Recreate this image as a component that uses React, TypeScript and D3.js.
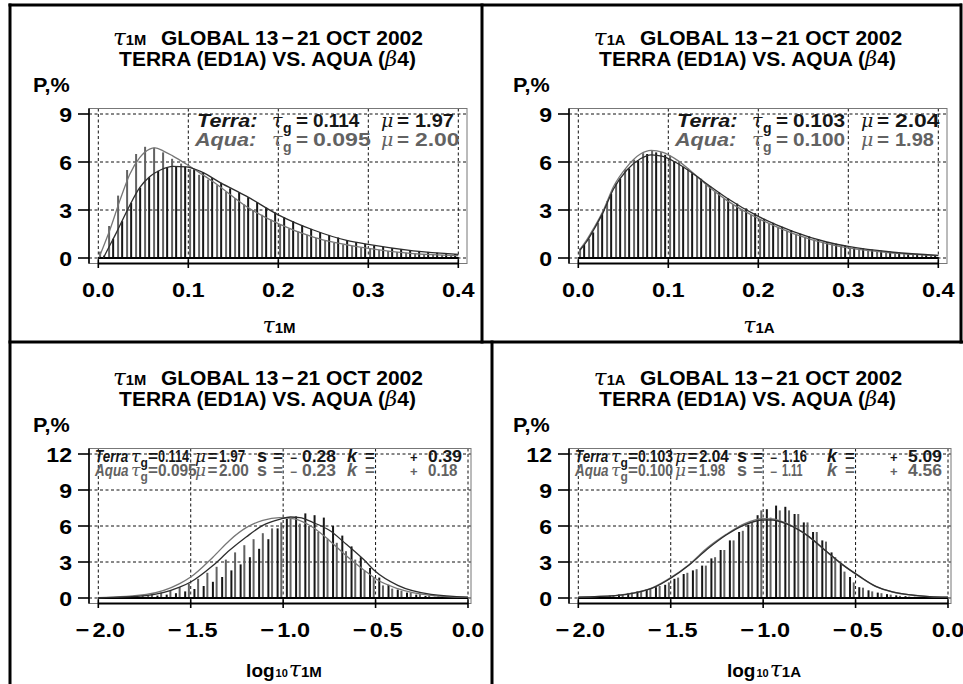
import React from "react";
import * as d3 from "d3";

// ---------- axes / categories ----------
const LIN_TICKS = [0.0, 0.1, 0.2, 0.3, 0.4];
const LOG_TICKS = [-2.0, -1.5, -1.0, -0.5, 0.0];
const Y_TICKS_TOP = [0, 3, 6, 9];
const Y_TICKS_BOTTOM = [0, 3, 6, 9, 12];
const LIN_BIN_STARTS = d3.range(40).map((k) => +(k * 0.01).toFixed(2));
const LOG_BIN_STARTS = d3.range(40).map((k) => +(-2 + k * 0.05).toFixed(2));

// ---------- panel 1 : tau_1M ----------
const P1_TERRA_BARS = [0.15, 1.2, 2.3, 3.45, 4.4, 5.05, 5.45, 5.65, 5.75, 5.7, 5.55, 5.35, 5.0, 4.7, 4.35, 4.1, 3.8, 3.5, 3.15, 2.85, 2.55, 2.3, 2.05, 1.82, 1.62, 1.44, 1.28, 1.12, 1.0, 0.88, 0.78, 0.7, 0.62, 0.55, 0.49, 0.43, 0.38, 0.33, 0.29, 0.25];
const P1_AQUA_BARS = [0.4, 2.0, 3.9, 5.5, 6.5, 6.95, 6.9, 6.6, 6.2, 5.9, 5.55, 5.2, 4.9, 4.55, 4.15, 3.75, 3.35, 3.0, 2.7, 2.4, 2.1, 1.85, 1.65, 1.45, 1.25, 1.1, 0.95, 0.85, 0.75, 0.66, 0.58, 0.5, 0.44, 0.38, 0.33, 0.29, 0.25, 0.22, 0.19, 0.17];
const P1_TERRA_CURVE: [number, number][] = [[0.0056, 0], [0.012, 0.7], [0.02, 1.57], [0.028, 2.5], [0.035, 3.3], [0.046, 4.4], [0.057, 5.08], [0.069, 5.5], [0.083, 5.73], [0.098, 5.7], [0.116, 5.35], [0.135, 4.73], [0.165, 3.85], [0.2, 2.7], [0.239, 1.75], [0.276, 1.1], [0.3, 0.85], [0.35, 0.45], [0.4, 0.23]];
const P1_AQUA_CURVE: [number, number][] = [[0.001, 0.05], [0.013, 1.78], [0.024, 3.6], [0.035, 5.24], [0.046, 6.27], [0.057, 6.8], [0.063, 6.88], [0.072, 6.7], [0.083, 6.37], [0.098, 5.86], [0.116, 5.2], [0.128, 4.75], [0.165, 3.2], [0.2, 2.15], [0.239, 1.3], [0.3, 0.6], [0.35, 0.27], [0.4, 0.15]];

// ---------- panel 2 : tau_1A ----------
const P2_TERRA_BARS = [0.85, 1.6, 2.8, 4.0, 4.95, 5.6, 6.1, 6.5, 6.6, 6.45, 6.05, 5.7, 5.3, 4.95, 4.5, 4.1, 3.72, 3.4, 3.1, 2.8, 2.45, 2.2, 1.95, 1.75, 1.52, 1.35, 1.18, 1.0, 0.9, 0.78, 0.68, 0.6, 0.52, 0.45, 0.4, 0.34, 0.3, 0.26, 0.22, 0.18];
const P2_AQUA_BARS = [0.6, 1.2, 2.2, 3.55, 4.7, 5.55, 6.15, 6.55, 6.72, 6.62, 6.4, 6.05, 5.6, 5.1, 4.6, 4.15, 3.72, 3.35, 3.0, 2.7, 2.42, 2.15, 1.9, 1.7, 1.5, 1.32, 1.15, 1.0, 0.87, 0.75, 0.65, 0.56, 0.48, 0.42, 0.36, 0.31, 0.26, 0.22, 0.19, 0.16];
const P2_TERRA_CURVE: [number, number][] = [[0.002, 0.5], [0.009, 1.0], [0.017, 1.75], [0.028, 2.9], [0.039, 4.3], [0.054, 5.5], [0.069, 6.2], [0.081, 6.45], [0.094, 6.35], [0.109, 5.95], [0.128, 5.25], [0.146, 4.5], [0.165, 3.75], [0.2, 2.6], [0.239, 1.65], [0.276, 1.0], [0.3, 0.72], [0.35, 0.36], [0.4, 0.17]];
const P2_AQUA_CURVE: [number, number][] = [[0.002, 0.55], [0.009, 1.1], [0.017, 1.85], [0.028, 3.0], [0.039, 4.45], [0.054, 5.7], [0.069, 6.5], [0.081, 6.73], [0.094, 6.6], [0.109, 6.15], [0.128, 5.3], [0.146, 4.4], [0.165, 3.6], [0.2, 2.47], [0.239, 1.53], [0.276, 0.9], [0.3, 0.63], [0.35, 0.31], [0.4, 0.15]];

// ---------- panel 3 : log10 tau_1M ----------
const P3_TERRA_BARS = [0.02, 0.03, 0.05, 0.07, 0.1, 0.14, 0.2, 0.28, 0.4, 0.55, 0.75, 1.0, 1.35, 1.75, 2.3, 2.8, 3.4, 4.1, 4.9, 5.8, 6.6, 6.8, 7.05, 6.9, 6.7, 6.0, 5.2, 4.3, 3.4, 2.5, 1.7, 1.1, 0.7, 0.45, 0.28, 0.17, 0.1, 0.06, 0.04, 0.02];
const P3_AQUA_BARS = [0.04, 0.07, 0.1, 0.15, 0.22, 0.32, 0.45, 0.62, 0.9, 1.2, 1.6, 2.1, 2.6, 3.2, 3.8, 4.4, 4.9, 5.4, 5.8, 6.3, 6.6, 6.2, 6.0, 5.5, 4.9, 4.6, 3.9, 3.2, 2.3, 1.7, 1.05, 0.78, 0.6, 0.45, 0.32, 0.22, 0.15, 0.1, 0.06, 0.03];
const P3_TERRA_CURVE: [number, number][] = [[-2.0, 0.02], [-1.74, 0.2], [-1.56, 0.9], [-1.5, 1.33], [-1.38, 2.7], [-1.29, 3.97], [-1.2, 5.08], [-1.11, 6.05], [-1.02, 6.55], [-0.96, 6.75], [-0.91, 6.7], [-0.84, 6.3], [-0.75, 5.64], [-0.66, 4.5], [-0.56, 3.14], [-0.5, 2.2], [-0.38, 1.05], [-0.2, 0.3], [0, 0.08]];
const P3_AQUA_CURVE: [number, number][] = [[-2.0, 0.03], [-1.74, 0.3], [-1.56, 1.2], [-1.5, 1.75], [-1.38, 3.4], [-1.29, 4.8], [-1.2, 5.86], [-1.11, 6.47], [-1.02, 6.7], [-0.94, 6.6], [-0.84, 5.9], [-0.75, 4.8], [-0.66, 3.55], [-0.56, 2.3], [-0.5, 1.6], [-0.38, 0.78], [-0.2, 0.22], [0, 0.05]];

// ---------- panel 4 : log10 tau_1A ----------
const P4_TERRA_BARS = [0.05, 0.08, 0.13, 0.2, 0.3, 0.42, 0.55, 0.7, 0.9, 1.1, 1.6, 2.0, 2.3, 2.7, 3.3, 4.0, 4.8, 5.5, 6.1, 6.9, 7.4, 7.7, 7.6, 7.0, 6.3, 5.5, 4.8, 3.8, 2.85, 1.75, 0.9, 0.64, 0.45, 0.32, 0.22, 0.15, 0.1, 0.06, 0.04, 0.02];
const P4_AQUA_BARS = [0.05, 0.09, 0.14, 0.22, 0.32, 0.45, 0.58, 0.75, 1.0, 1.3, 1.7, 2.1, 2.4, 2.7, 3.4, 4.0, 4.8, 5.6, 6.3, 7.3, 6.7, 7.3, 7.3, 7.0, 6.3, 5.5, 4.7, 3.4, 2.2, 1.3, 0.86, 0.55, 0.4, 0.28, 0.18, 0.12, 0.08, 0.05, 0.03, 0.02];
const P4_TERRA_CURVE: [number, number][] = [[-2.0, 0.08], [-1.8, 0.2], [-1.7, 0.4], [-1.6, 0.82], [-1.5, 1.65], [-1.4, 2.75], [-1.3, 4.1], [-1.2, 5.25], [-1.1, 6.1], [-1.0, 6.5], [-0.95, 6.5], [-0.87, 6.15], [-0.76, 5.2], [-0.66, 3.92], [-0.57, 2.78], [-0.48, 1.82], [-0.39, 0.97], [-0.3, 0.52], [-0.2, 0.26], [-0.1, 0.12], [0, 0.07]];
const P4_AQUA_CURVE: [number, number][] = [[-2.0, 0.08], [-1.8, 0.2], [-1.7, 0.42], [-1.6, 0.85], [-1.5, 1.7], [-1.4, 2.8], [-1.3, 4.2], [-1.2, 5.3], [-1.1, 6.2], [-1.0, 6.62], [-0.95, 6.6], [-0.87, 6.2], [-0.76, 5.2], [-0.66, 3.9], [-0.57, 2.75], [-0.48, 1.8], [-0.39, 0.95], [-0.3, 0.5], [-0.2, 0.25], [-0.1, 0.12], [0, 0.07]];

// ---------- statistics text ----------
const TAU_G_1M = ["0.114", "0.095"];
const MU_1M = ["1.97", "2.00"];
const S_1M = ["0.28", "0.23"];
const K_1M = ["0.39", "0.18"];
const TAU_G_1A = ["0.103", "0.100"];
const MU_1A = ["2.04", "1.98"];
const S_1A = ["1.16", "1.11"];
const K_1A = ["5.09", "4.56"];
const SAT_NAMES = ["Terra", "Aqua"];

const SANS = "'Liberation Sans', Arial, Helvetica, sans-serif";
const SERIF = "'DejaVu Serif', 'Liberation Serif', serif";
const DARK = "#161616";
const GRAY = "#626262";
const SAT_COLORS = [DARK, GRAY];

// the original typeface has proportional digits (narrow "1")
const numW = (s: string, af: number, a1: number, ad: number) =>
  Array.from(s).reduce((w, ch) => w + (ch === "1" ? a1 : ch === "." ? ad : af), 0);

const Sx = ({ x, y, sx, children }: any) => (
  <g transform={`translate(${x},${y}) scale(${sx},1)`}>{children}</g>
);

function Panel(props: any) {
  const { ox, oy, log, sub, yMax, yTicks, terraBars, aquaBars, terraCurve, aquaCurve, tau, mu, s, k } = props;
  const xDom = log ? [-2, 0] : [0, 0.4];
  const x = d3.scaleLinear().domain(xDom).range([98.3, log ? 468 : 458.3]);
  const y = d3.scaleLinear().domain([0, yMax]).range([258, 114]);
  const boxL = 89, boxR = log ? 471 : 467, boxT = 108.5, boxB = 263.5;
  const bins = log ? LOG_BIN_STARTS : LIN_BIN_STARTS;
  const bw = log ? 0.05 : 0.01;
  const offT = log ? 0.4 : 0.65;
  const offA = log ? 0.8 : 0.2;
  const ticks = log ? LOG_TICKS : LIN_TICKS;
  const line = d3
    .line<[number, number]>()
    .x((d) => x(d[0]))
    .y((d) => y(d[1]))
    .curve(d3.curveMonotoneX);

  const fmt = (v: number) => (v < 0 ? ["\u2212", Math.abs(v).toFixed(1)] : ["", v.toFixed(1)]);

  return (
    <g transform={`translate(${ox},${oy})`}>
      {/* title */}
      <Sx x={268} y={45} sx={1.05}>
        <text textAnchor="middle" fontFamily={SANS} fontWeight="bold" fontSize={20}>
          <tspan fontFamily={SERIF} fontStyle="italic" fontWeight="normal" fontSize={22}>τ</tspan>
          <tspan fontSize={14}>{sub}</tspan>
          <tspan dx={14}>GLOBAL 13</tspan>
          <tspan dx={3}>−</tspan>
          <tspan dx={3}>21 OCT 2002</tspan>
        </text>
      </Sx>
      <Sx x={267.5} y={66} sx={1.05}>
        <text textAnchor="middle" fontFamily={SANS} fontWeight="bold" fontSize={20}>
          TERRA (ED1A) VS. AQUA (
          <tspan fontFamily={SERIF} fontStyle="italic" fontWeight="normal">β</tspan>
          4)
        </text>
      </Sx>
      <Sx x={33} y={92} sx={1.08}>
        <text fontFamily={SANS} fontWeight="bold" fontSize={20}>P,%</text>
      </Sx>

      {/* grid */}
      {ticks.map((t: number) => (
        <line key={"gx" + t} x1={x(t)} x2={x(t)} y1={boxT} y2={boxB} stroke="#111" strokeWidth={1} strokeDasharray="3,2.5" />
      ))}
      {yTicks.map((t: number) => (
        <line key={"gy" + t} x1={boxL} x2={boxR} y1={y(t)} y2={y(t)} stroke="#111" strokeWidth={1} strokeDasharray="3,2.5" />
      ))}

      {/* box */}
      <rect x={boxL} y={boxT} width={boxR - boxL} height={boxB - boxT} fill="none" stroke="#777" strokeWidth={1} />

      {/* bars */}
      {bins.map((b: number, i: number) => (
        <rect key={"a" + i} x={x(b + bw * offA) - 1} width={2} y={y(aquaBars[i])} height={y(0) - y(aquaBars[i])} fill={GRAY} />
      ))}
      {bins.map((b: number, i: number) => (
        <rect key={"t" + i} x={x(b + bw * offT) - 1} width={2} y={y(terraBars[i])} height={y(0) - y(terraBars[i])} fill={DARK} />
      ))}
      <line x1={x(xDom[0])} x2={x(xDom[1])} y1={y(0)} y2={y(0)} stroke="#000" strokeWidth={2} />

      {/* curves */}
      <path d={line(aquaCurve) || ""} fill="none" stroke="#767676" strokeWidth={1.3} />
      <path d={line(terraCurve) || ""} fill="none" stroke="#2e2e2e" strokeWidth={1.3} />

      {/* axes */}
      <line x1={boxL} x2={boxL} y1={boxT} y2={boxB} stroke="#000" strokeWidth={1.6} />
      {yTicks.map((t: number) => (
        <g key={"yt" + t}>
          <line x1={78} x2={boxL} y1={y(t)} y2={y(t)} stroke="#000" strokeWidth={1.6} />
          <Sx x={72} y={y(t) + 7.5} sx={1.1}>
            <text textAnchor="end" fontFamily={SANS} fontWeight="bold" fontSize={21}>{t}</text>
          </Sx>
        </g>
      ))}
      <line x1={x(xDom[0])} x2={x(xDom[1])} y1={boxB} y2={boxB} stroke="#000" strokeWidth={1.8} />
      {ticks.map((t: number) => {
        const [sg, num] = fmt(t);
        return (
          <g key={"xt" + t}>
            <line x1={x(t)} x2={x(t)} y1={259.5} y2={268} stroke="#000" strokeWidth={1.6} />
            <Sx x={x(t) + (sg ? 2 : 0)} y={297} sx={1.12}>
              <text textAnchor="middle" fontFamily={SANS} fontWeight="bold" fontSize={21}>
                {sg}
                <tspan dx={sg ? 3 : 0}>{num}</tspan>
              </text>
            </Sx>
          </g>
        );
      })}

      {/* x title */}
      {log ? (
        <text x={284} y={336.5} textAnchor="middle" fontFamily={SANS} fontWeight="bold" fontSize={19}>
          log
          <tspan fontSize={11} dx={1}>10</tspan>
          <tspan fontFamily={SERIF} fontStyle="italic" fontWeight="normal" fontSize={22} dx={1}>τ</tspan>
          <tspan fontSize={15}>{sub}</tspan>
        </text>
      ) : (
        <text x={279} y={333} textAnchor="middle" fontFamily={SANS} fontWeight="bold" fontSize={15}>
          <tspan fontFamily={SERIF} fontStyle="italic" fontWeight="normal" fontSize={22}>τ</tspan>
          <tspan>{sub}</tspan>
        </text>
      )}

      {/* statistics */}
      {!log
        ? SAT_NAMES.map((nm, r) => {
            const yb = r === 0 ? 127 : 145.5;
            const c = SAT_COLORS[r];
            return (
              <g key={"st" + r} fill={c} fontFamily={SANS} fontWeight="bold" fontSize={18}>
                <Sx x={r === 0 ? 197 : 195} y={yb} sx={1.2}>
                  <text fontStyle="italic">{nm + ":"}</text>
                </Sx>
                <text x={272} y={yb} fontFamily={SERIF} fontStyle="italic" fontWeight="normal" fontSize={19}>τ</text>
                <text x={283} y={yb + 6} fontSize={14}>g</text>
                <Sx x={296} y={yb} sx={1.15}>
                  <text>=</text>
                </Sx>
                <text x={313} y={yb} textLength={numW(tau[r], 13.2, 7.5, 5)} lengthAdjust="spacingAndGlyphs">{tau[r]}</text>
                <text x={381} y={yb} fontFamily={SERIF} fontStyle="italic" fontWeight="normal" fontSize={19}>μ</text>
                <Sx x={397} y={yb} sx={1.15}>
                  <text>=</text>
                </Sx>
                <text x={415} y={yb} textLength={numW(mu[r], 13.2, 7.5, 5)} lengthAdjust="spacingAndGlyphs">{mu[r]}</text>
              </g>
            );
          })
        : SAT_NAMES.map((nm, r) => {
            const yb = r === 0 ? 121.5 : 136;
            const c = SAT_COLORS[r];
            return (
              <g key={"st" + r} fill={c} fontFamily={SANS} fontWeight="bold" fontSize={17}>
                <Sx x={95} y={yb} sx={0.84}>
                  <text fontStyle="italic" fontSize={16}>{nm}</text>
                </Sx>
                <text x={131} y={yb} fontFamily={SERIF} fontStyle="italic" fontWeight="normal" fontSize={17}>τ</text>
                <text x={140.5} y={yb + 5} fontSize={12}>g</text>
                <text x={148} y={yb}>=</text>
                <text x={158} y={yb} textLength={numW(tau[r], 8.8, 5, 3.5)} lengthAdjust="spacingAndGlyphs">{tau[r]}</text>
                <text x={195} y={yb} fontFamily={SERIF} fontStyle="italic" fontWeight="normal" fontSize={17}>μ</text>
                <text x={207.5} y={yb}>=</text>
                <text x={219} y={yb} textLength={numW(mu[r], 8.8, 5, 3.5)} lengthAdjust="spacingAndGlyphs">{mu[r]}</text>
                <text x={257} y={yb} fontSize={18}>s</text>
                <text x={273} y={yb}>=</text>
                <text x={290} y={yb} fontSize={12}>−</text>
                <text x={302} y={yb} textLength={numW(s[r], 10, 5.5, 4)} lengthAdjust="spacingAndGlyphs">{s[r]}</text>
                <text x={347} y={yb} fontStyle="italic" fontSize={18}>k</text>
                <text x={365} y={yb}>=</text>
                <text x={410} y={yb} fontSize={13}>+</text>
                <text x={428} y={yb} textLength={numW(k[r], 10, 5.5, 4)} lengthAdjust="spacingAndGlyphs">{k[r]}</text>
              </g>
            );
          })}
    </g>
  );
}

export default function App() {
  return (
    <svg width={963} height={684} style={{ position: "absolute", left: 0, top: 0, background: "#fff" }}>
      <rect x={0} y={0} width={963} height={684} fill="#fff" />
      <Panel ox={0} oy={0} log={false} sub="1M" yMax={9} yTicks={Y_TICKS_TOP}
        terraBars={P1_TERRA_BARS} aquaBars={P1_AQUA_BARS} terraCurve={P1_TERRA_CURVE} aquaCurve={P1_AQUA_CURVE}
        tau={TAU_G_1M} mu={MU_1M} />
      <Panel ox={480} oy={0} log={false} sub="1A" yMax={9} yTicks={Y_TICKS_TOP}
        terraBars={P2_TERRA_BARS} aquaBars={P2_AQUA_BARS} terraCurve={P2_TERRA_CURVE} aquaCurve={P2_AQUA_CURVE}
        tau={TAU_G_1A} mu={MU_1A} />
      <Panel ox={0} oy={340} log={true} sub="1M" yMax={12} yTicks={Y_TICKS_BOTTOM}
        terraBars={P3_TERRA_BARS} aquaBars={P3_AQUA_BARS} terraCurve={P3_TERRA_CURVE} aquaCurve={P3_AQUA_CURVE}
        tau={TAU_G_1M} mu={MU_1M} s={S_1M} k={K_1M} />
      <Panel ox={480} oy={340} log={true} sub="1A" yMax={12} yTicks={Y_TICKS_BOTTOM}
        terraBars={P4_TERRA_BARS} aquaBars={P4_AQUA_BARS} terraCurve={P4_TERRA_CURVE} aquaCurve={P4_AQUA_CURVE}
        tau={TAU_G_1A} mu={MU_1A} s={S_1A} k={K_1A} />

      {/* frames */}
      <g stroke="#000" strokeWidth={3} fill="none">
        <line x1={10} x2={10} y1={3.5} y2={684} />
        <line x1={8.5} x2={962} y1={5} y2={5} />
        <line x1={961} x2={961} y1={3.5} y2={343.5} />
        <line x1={482} x2={482} y1={3.5} y2={343.5} />
        <line x1={8.5} x2={963} y1={342} y2={342} />
        <line x1={492} x2={492} y1={340.5} y2={684} />
      </g>
    </svg>
  );
}
